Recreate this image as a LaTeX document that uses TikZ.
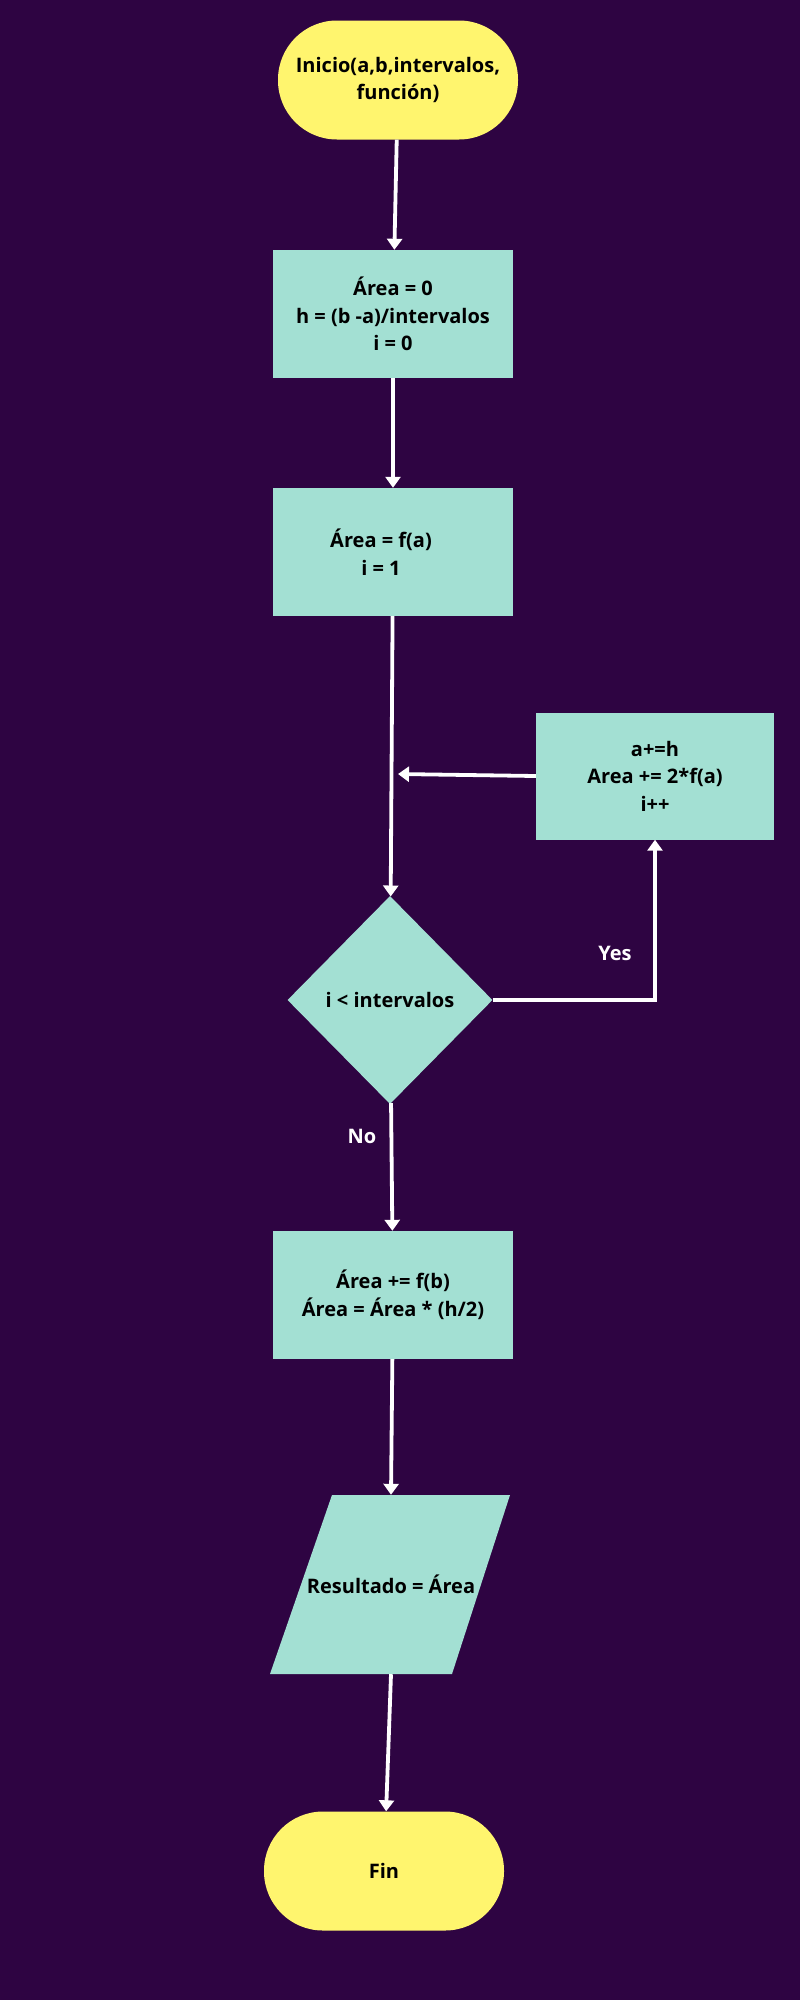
\documentclass[tikz,border=0pt]{standalone}
\usepackage{fontspec}
\setmainfont{Open Sans}
\usetikzlibrary{arrows.meta,positioning,shapes.geometric,calc}
\definecolor{bgpurple}{HTML}{2E0442}
\definecolor{boxteal}{HTML}{A3E0D3}
\definecolor{termyellow}{HTML}{FFF56E}
\newcommand{\flowfont}{\fontsize{20}{27.5}\selectfont\bfseries}

\begin{document}
\begin{tikzpicture}[
  x=1pt,y=-1pt,
  block/.style={rectangle,fill=boxteal,minimum width=240pt,minimum height=128pt,
                align=center,font=\flowfont,inner sep=0pt},
  term/.style={rectangle,rounded corners=59pt,fill=termyellow,minimum width=240pt,
               minimum height=119pt,align=center,font=\flowfont,inner sep=0pt},
  lbl/.style={font=\flowfont,text=white},
  arr/.style={-{Triangle[width=15pt,length=11pt]},white,line width=3.8pt}
]
\fill[bgpurple] (0,0) rectangle (800,2000);
\useasboundingbox (0,0) rectangle (800,2000);
\node[term] (start) at (398,80) {Inicio(a,b,intervalos,\\función)};
\node[block] (init) at (393,314) {Área = 0\\h = (b -a)/intervalos\\i = 0};
\node[block] (first) at (393,552)
  {Área = f(a)\hspace*{24pt}\\i = 1\hspace*{24pt}};
\node[block,minimum width=238pt,minimum height=127pt] (loop) at (655,776)
  {a+=h\\Area += 2*f(a)\\i++};
\node[draw=none,fill=boxteal,diamond,aspect=1,minimum width=205pt,minimum height=208pt,
  inner sep=0pt,font=\flowfont] (dec) at (390,1000) {i < intervalos};
\node[block] (last) at (393,1295) {Área += f(b)\\Área = Área * (h/2)};
% output parallelogram
\fill[boxteal] (332,1495) -- (510,1495) -- (452,1674) -- (270,1674) -- cycle;
\node[minimum width=182pt,minimum height=179pt,inner sep=0pt,font=\flowfont]
  (result) at (391,1584.5) {Resultado = Área};
\node[term,minimum width=240pt] (fin) at (384,1871) {Fin};
\coordinate (loopin) at (398,774);
% Arrows
\draw[arr] (start) -- (init);
\draw[arr] (init) -- (first);
\draw[arr] (first) -- (dec);
\draw[arr] (loop.west) -- (loopin);
\draw[arr] (dec.east) -| (loop.south);
\draw[arr] (dec) -- (last);
\draw[arr] (last) -- (result.north);
\draw[arr] (result.south) -- (fin);
\node[lbl] (yes) at (615,953) {Yes};
\node[lbl] (no) at (362,1136) {No};
\end{tikzpicture}
\end{document}
